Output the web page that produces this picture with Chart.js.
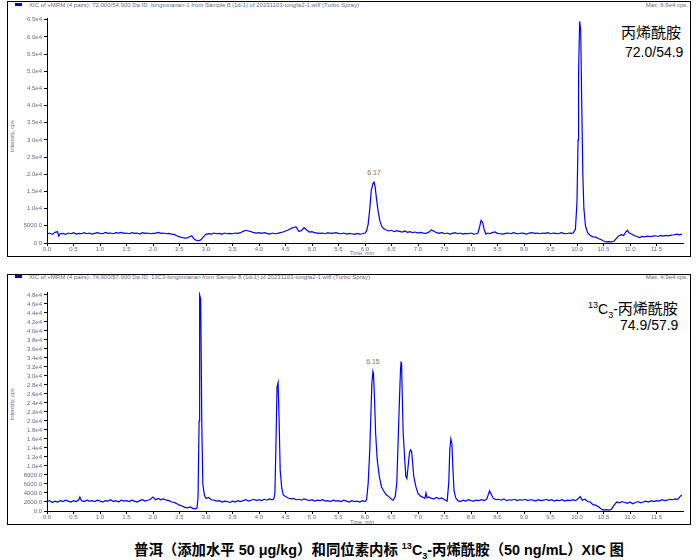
<!DOCTYPE html>
<html lang="zh">
<head>
<meta charset="UTF-8">
<title>XIC 图</title>
<script src="https://cdn.jsdelivr.net/npm/chart.js"></script>
<style>
    body { margin: 0; width: 700px; height: 560px; background: #fff; position: relative; overflow: hidden; font-family: "Liberation Sans", Arial, sans-serif; }
    .box { position: absolute; border: 1px solid #000; box-sizing: border-box; }
    canvas { position: absolute; }
    .hdr { position: absolute; font-size: 6px; color: #6a6a88; white-space: nowrap; line-height: 6px; }
    .mark { position: absolute; width: 7px; height: 3px; background: #0000cc; }
    .ytitle { position: absolute; font-size: 5.5px; color: #6a6a88; white-space: nowrap; transform: rotate(-90deg); transform-origin: left top; }
    .xtitle { position: absolute; font-size: 5.5px; color: #6a6a88; white-space: nowrap; }
    .name { position: absolute; font-family: "Noto Sans CJK SC", sans-serif; font-size: 15px; color: #000; white-space: nowrap; line-height: 16px; }
    .mrm { position: absolute; font-family: "Liberation Sans Narrow", "Liberation Sans", sans-serif; font-size: 14px; color: #000; white-space: nowrap; line-height: 16px; }
    .caption { position: absolute; left: 134px; top: 538px; font-weight: bold; font-size: 14.4px; font-family: "Liberation Sans", "Noto Sans CJK SC", sans-serif; white-space: nowrap; }
</style>
</head>
<body>
    <!-- панель 1 -->
    <div class="box" style="left:7px; top:1px; width:684px; height:256px;"></div>
    <div class="mark" style="left:15px; top:3px;"></div>
    <div class="hdr" style="left:29px; top:2px;">XIC of +MRM (4 pairs): 72.000/54.900 Da ID: bingxixianan-1 from Sample 8 (1d-1) of 20231103-tongfa2-1.wiff (Turbo Spray)</div>
    <div class="hdr" style="right:12px; top:2px;">Max. 6.6e4 cps.</div>
    <div class="ytitle" style="left:9px; top:152px;">Intensity, cps</div>
    <div class="xtitle" style="left:350px; top:250px;">Time, min</div>
    <div class="name" style="left:621px; top:24px;">丙烯酰胺</div>
    <div class="mrm" style="left:625px; top:44px;">72.0/54.9</div>
    <canvas id="xic1" width="682" height="252" style="left:8px; top:4px;"></canvas>

    <!-- панель 2 -->
    <div class="box" style="left:7px; top:274px; width:684px; height:251px;"></div>
    <div class="mark" style="left:15px; top:275px;"></div>
    <div class="hdr" style="left:29px; top:274px;">XIC of +MRM (4 pairs): 74.900/57.900 Da ID: 13C3-bingxixianan from Sample 8 (1d-1) of 20231103-tongfa2-1.wiff (Turbo Spray)</div>
    <div class="hdr" style="right:12px; top:274px;">Max. 4.9e4 cps.</div>
    <div class="ytitle" style="left:9px; top:420px;">Intensity, cps</div>
    <div class="xtitle" style="left:350px; top:519px;">Time, min</div>
    <div class="name" style="left:588px; top:297px;"><span class="mrm" style="position:static;"><sup style="font-size:9px;">13</sup>C<sub style="font-size:9px;">3</sub>-</span>丙烯酰胺</div>
    <div class="mrm" style="left:620px; top:317px;">74.9/57.9</div>
    <canvas id="xic2" width="682" height="246" style="left:8px; top:278px;"></canvas>

    <div class="caption">普洱（添加水平 50 μg/kg）和同位素内标 <sup style="font-size:9px;">13</sup>C<sub style="font-size:9px;">3</sub>-丙烯酰胺（50 ng/mL）XIC 图</div>

<script>
// время (мин) / интенсивность (cps), канал 72.0/54.9
const trace1 = [
    [0.00,2600],[0.05,2900],[0.10,2500],[0.15,3100],[0.20,3300],[0.22,2000],[0.25,2700],[0.30,2800],[0.35,2500],[0.40,2900],
    [0.45,2700],[0.50,3000],[0.55,2600],[0.60,2800],[0.65,2700],[0.70,3000],[0.75,2700],[0.80,2900],[0.85,2600],[0.90,2800],
    [0.95,3000],[1.00,2800],[1.05,2700],[1.10,3100],[1.15,2800],[1.20,2900],[1.25,2700],[1.30,3000],[1.35,2900],[1.40,3100],
    [1.45,2800],[1.50,2900],[1.55,2700],[1.60,3000],[1.65,2800],[1.70,2900],[1.75,2600],[1.80,3000],[1.85,2800],[1.90,2900],
    [1.95,2700],[2.00,2800],[2.05,2900],[2.10,3100],[2.15,2800],[2.20,2900],[2.25,2700],[2.30,2800],[2.35,2600],[2.40,2500],
    [2.45,2100],[2.50,1800],[2.55,1600],[2.60,1400],[2.65,1500],[2.70,1900],[2.73,2100],[2.76,1400],[2.80,900],[2.85,600],
    [2.90,900],[2.95,1800],[3.00,2500],[3.05,2700],[3.10,2600],[3.15,2900],[3.20,2700],[3.25,2800],[3.30,2600],[3.35,2900],
    [3.40,2700],[3.45,2800],[3.50,2700],[3.55,2900],[3.60,2800],[3.65,3000],[3.70,3400],[3.75,3700],[3.80,3500],[3.85,3300],
    [3.90,3000],[3.95,2900],[4.00,3000],[4.05,2800],[4.10,3000],[4.15,2800],[4.20,2600],[4.25,2900],[4.30,2700],[4.35,2800],
    [4.40,3000],[4.45,3200],[4.50,3500],[4.55,3800],[4.60,4200],[4.65,4500],[4.70,4700],[4.75,3400],[4.80,3600],[4.85,4500],
    [4.90,3800],[4.95,3200],[5.00,3300],[5.05,3000],[5.10,2900],[5.15,2800],[5.20,2900],[5.25,2700],[5.30,3000],[5.35,2800],
    [5.40,2900],[5.45,3000],[5.50,2800],[5.55,2700],[5.60,2900],[5.65,2600],[5.70,2800],[5.75,2700],[5.80,2500],[5.85,2800],
    [5.90,2600],[5.95,2700],[6.00,2900],[6.03,3500],[6.06,5500],[6.09,10000],[6.12,15500],[6.15,17300],[6.17,17700],[6.19,16500],
    [6.22,12500],[6.25,9000],[6.28,6500],[6.31,5000],[6.35,4200],[6.40,3800],[6.45,3500],[6.50,3700],[6.55,3300],[6.60,3600],
    [6.65,3400],[6.70,3200],[6.75,3500],[6.80,3100],[6.85,3300],[6.90,3000],[6.95,3200],[7.00,2900],[7.05,3100],[7.10,2900],
    [7.15,2800],[7.20,3100],[7.25,3800],[7.30,3400],[7.35,3000],[7.40,2800],[7.45,3100],[7.50,2700],[7.55,2900],[7.60,2600],
    [7.65,2800],[7.70,3000],[7.75,2700],[7.80,2900],[7.85,2600],[7.90,2800],[7.95,2700],[8.00,2900],[8.05,2600],[8.10,2700],
    [8.13,2900],[8.16,4500],[8.19,6600],[8.22,6000],[8.25,3800],[8.28,2600],[8.32,2900],[8.35,2700],[8.40,3000],[8.45,3200],
    [8.50,2800],[8.55,2700],[8.60,2600],[8.65,2800],[8.70,2900],[8.75,2700],[8.80,3000],[8.85,2800],[8.90,2700],[8.95,2900],
    [9.00,2800],[9.05,2600],[9.10,2900],[9.15,3000],[9.20,2800],[9.25,2900],[9.30,2700],[9.35,2900],[9.40,2800],[9.45,3000],
    [9.50,2700],[9.55,2900],[9.60,2800],[9.65,2700],[9.70,3000],[9.75,2800],[9.80,2700],[9.85,2900],[9.90,2800],[9.93,3000],
    [9.97,4000],[10.00,12000],[10.02,30000],[10.03,50000],[10.05,64500],[10.07,62000],[10.09,40000],[10.11,20000],[10.13,10000],[10.16,5000],
    [10.20,3000],[10.25,2200],[10.30,1800],[10.35,1700],[10.40,1300],[10.45,1000],[10.50,600],[10.55,300],[10.60,400],[10.65,300],
    [10.70,600],[10.74,1300],[10.78,2000],[10.83,2400],[10.88,2200],[10.92,3200],[10.95,3700],[10.98,3000],[11.03,2600],[11.08,2200],
    [11.13,1900],[11.18,1600],[11.23,1900],[11.28,1800],[11.33,2000],[11.38,1900],[11.43,2000],[11.48,2100],[11.53,1900],[11.58,2200],
    [11.63,2000],[11.68,2200],[11.73,2100],[11.78,2300],[11.83,2400],[11.88,2600],[11.93,2400],[11.98,2600]
];

// канал 74.9/57.9 (13C3)
const trace2 = [
    [0.00,2100],[0.05,2300],[0.10,1900],[0.15,2200],[0.20,2000],[0.25,2300],[0.30,2100],[0.35,2400],[0.40,2200],[0.45,2000],
    [0.50,2300],[0.55,2100],[0.60,2500],[0.62,3100],[0.65,2300],[0.70,2100],[0.75,2400],[0.80,2200],[0.85,2300],[0.90,2100],
    [0.95,2400],[1.00,2200],[1.05,2000],[1.10,2300],[1.15,2200],[1.20,2500],[1.25,2100],[1.30,2300],[1.35,2000],[1.40,2400],
    [1.45,2200],[1.50,2300],[1.55,2100],[1.60,2400],[1.65,2200],[1.70,2000],[1.75,2300],[1.80,2500],[1.85,2200],[1.90,2400],
    [1.95,2600],[2.00,3100],[2.05,2500],[2.10,2800],[2.15,2500],[2.20,2700],[2.25,2400],[2.30,2300],[2.35,2000],[2.40,1900],
    [2.45,1600],[2.50,1300],[2.55,1100],[2.60,800],[2.65,700],[2.70,900],[2.75,600],[2.80,500],[2.83,700],[2.85,3000],
    [2.87,20000],[2.88,48000],[2.90,47000],[2.92,20000],[2.94,6000],[2.97,3500],[3.00,2800],[3.05,3000],[3.10,2500],[3.15,2400],
    [3.20,2200],[3.25,2300],[3.30,2000],[3.35,2200],[3.40,2100],[3.45,1900],[3.50,2200],[3.55,2000],[3.60,2300],[3.65,2100],
    [3.70,2300],[3.75,2500],[3.80,2200],[3.85,2400],[3.90,2600],[3.95,2300],[4.00,2500],[4.05,2300],[4.10,2600],[4.15,2400],
    [4.20,2700],[4.25,2500],[4.28,2700],[4.30,4000],[4.32,15000],[4.34,27500],[4.36,28500],[4.38,20000],[4.40,9000],[4.43,5000],
    [4.46,3500],[4.50,3200],[4.55,2900],[4.60,2700],[4.65,2800],[4.70,2500],[4.75,2600],[4.80,2400],[4.85,2700],[4.90,2500],
    [4.95,2300],[5.00,2500],[5.05,2200],[5.10,2400],[5.15,2300],[5.20,2500],[5.25,2200],[5.30,2300],[5.35,2100],[5.40,2400],
    [5.45,2200],[5.50,2300],[5.55,2100],[5.60,2400],[5.65,2200],[5.70,2000],[5.75,2300],[5.80,2100],[5.85,2200],[5.90,2000],
    [5.95,2300],[6.00,2100],[6.03,2500],[6.06,6200],[6.09,13600],[6.11,21000],[6.13,28500],[6.15,31000],[6.16,30500],[6.18,24800],
    [6.20,17400],[6.23,11400],[6.27,7700],[6.31,5400],[6.35,4500],[6.40,3600],[6.45,3200],[6.50,2600],[6.53,2400],[6.57,3200],
    [6.60,6200],[6.63,17400],[6.65,24800],[6.67,31500],[6.68,33000],[6.69,32800],[6.70,27000],[6.72,17400],[6.75,11400],[6.77,7700],
    [6.79,7200],[6.81,9500],[6.84,13000],[6.86,13600],[6.88,13200],[6.90,10500],[6.92,7700],[6.96,5400],[7.00,3900],[7.05,3300],
    [7.10,3000],[7.13,2800],[7.15,4000],[7.17,2900],[7.20,3100],[7.25,2800],[7.30,2700],[7.35,3000],[7.40,2700],[7.45,2900],
    [7.50,2500],[7.55,2200],[7.58,6200],[7.60,13600],[7.62,16000],[7.64,15000],[7.66,9000],[7.68,4500],[7.71,3000],[7.75,2300],
    [7.80,2100],[7.85,2400],[7.90,2200],[7.95,2500],[8.00,2300],[8.05,2200],[8.10,2400],[8.15,2300],[8.20,2500],[8.25,2300],
    [8.30,2700],[8.35,4500],[8.38,3800],[8.42,2800],[8.47,2500],[8.52,2600],[8.57,2400],[8.62,2700],[8.67,2300],[8.72,2500],
    [8.77,2400],[8.82,2600],[8.87,2300],[8.92,2500],[8.97,2400],[9.02,2600],[9.07,2300],[9.12,2500],[9.17,2400],[9.22,2200],
    [9.27,2500],[9.32,2300],[9.37,2400],[9.42,2600],[9.47,2300],[9.52,2500],[9.57,2200],[9.62,2400],[9.67,2300],[9.72,2500],
    [9.77,2200],[9.82,2400],[9.87,2300],[9.92,2500],[9.97,2300],[10.02,2700],[10.06,3200],[10.10,2400],[10.15,2600],[10.20,2100],
    [10.25,2000],[10.30,1400],[10.35,1300],[10.40,1000],[10.45,500],[10.50,200],[10.55,300],[10.60,200],[10.65,400],[10.70,1300],
    [10.75,2000],[10.80,1800],[10.85,2100],[10.90,1900],[10.95,1700],[11.00,2000],[11.05,1600],[11.10,1900],[11.15,2100],[11.20,1800],
    [11.25,2000],[11.30,2200],[11.35,2000],[11.40,2300],[11.45,2100],[11.50,2300],[11.55,2200],[11.60,2500],[11.65,2300],[11.70,2400],
    [11.75,2600],[11.80,2500],[11.85,2700],[11.90,2600],[11.95,3300],[11.98,3500]
];

// подписи вершин пиков
const peaks1 = [[6.17, 17700, '6.17']];
const peaks2 = [[6.15, 31000, '6.15']];

// деления осей
const xTicks = [0,0.5,1,1.5,2,2.5,3,3.5,4,4.5,5,5.5,6,6.5,7,7.5,8,8.5,9,9.5,10,10.5,11,11.5];
const yTicks1 = [0,5000,10000,15000,20000,25000,30000,35000,40000,45000,50000,55000,60000,65000];
const yTicks2 = [0,2000,4000,6000,8000,10000,12000,14000,16000,18000,20000,22000,24000,
                 26000,28000,30000,32000,34000,36000,38000,40000,42000,44000,46000,48000];

const tickColor = '#6a6a88';
const tickFont = { family: 'Liberation Sans', size: 6 };

function fmtY(v) {
    if (v < 10000) return v.toFixed(1);
    return v.toExponential(1).replace('e+', 'e');
}

// подписи над пиками
const peakLabels = {
    id: 'peakLabels',
    afterDatasetsDraw(chart, args, opts) {
        const ctx = chart.ctx;
        const xs = chart.scales.x, ys = chart.scales.y;
        ctx.save();
        ctx.font = '7px "Liberation Sans"';
        ctx.fillStyle = '#8a7050';
        ctx.textAlign = 'center';
        ctx.textBaseline = 'middle';
        opts.items.forEach(p => {
            ctx.fillText(p[2], xs.getPixelForValue(p[0]), ys.getPixelForValue(p[1]) - 9);
        });
        ctx.restore();
    }
};

function makeChart(id, trace, yMax, yTicks, padTop, peaks) {
    new Chart(document.getElementById(id), {
        type: 'line',
        data: {
            datasets: [{
                data: trace.map(p => ({ x: p[0], y: p[1] })),
                borderColor: '#0000ff',
                borderWidth: 1.2,
                pointRadius: 0,
                tension: 0,
                fill: false
            }]
        },
        options: {
            responsive: false,
            animation: false,
            events: [],
            layout: { padding: { left: 0, top: padTop, right: 7, bottom: 0 } },
            plugins: {
                legend: { display: false },
                tooltip: { enabled: false },
                peakLabels: { items: peaks }
            },
            scales: {
                x: {
                    type: 'linear',
                    min: 0, max: 12,
                    afterFit(s) { s.height = 13; },
                    afterBuildTicks(s) { s.ticks = xTicks.map(v => ({ value: v })); },
                    grid: { drawOnChartArea: false, drawTicks: true, tickLength: 3, color: '#000' },
                    border: { color: '#000', width: 1 },
                    ticks: {
                        autoSkip: false,
                        maxRotation: 0,
                        padding: 0,
                        color: tickColor,
                        font: tickFont,
                        callback: v => v.toFixed(1)
                    }
                },
                y: {
                    min: 0, max: yMax,
                    afterFit(s) { s.width = 39; },
                    afterBuildTicks(s) { s.ticks = yTicks.map(v => ({ value: v })); },
                    grid: { drawOnChartArea: false, drawTicks: true, tickLength: 3, color: '#000' },
                    border: { color: '#000', width: 1 },
                    ticks: {
                        autoSkip: false,
                        padding: 2,
                        color: tickColor,
                        font: tickFont,
                        callback: v => fmtY(v)
                    }
                }
            }
        },
        plugins: [peakLabels]
    });
}

makeChart('xic1', trace1, 65500, yTicks1, 14, peaks1);
makeChart('xic2', trace2, 48650, yTicks2, 14, peaks2);
</script>
</body>
</html>
